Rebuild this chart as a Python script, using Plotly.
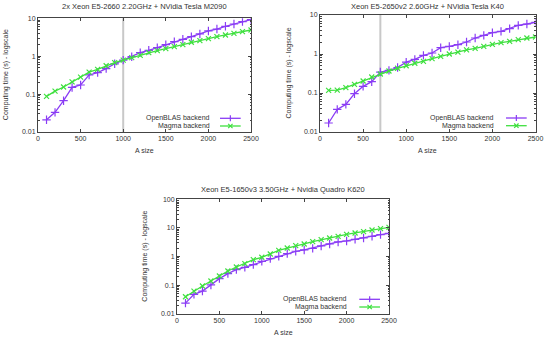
import plotly.graph_objects as go

W, H = 544, 337

sizes = list(range(100, 2600, 100))

titles = [
    "2x Xeon E5-2660 2.20GHz + NVidia Tesla M2090",
    "Xeon E5-2650v2 2.60GHz + NVidia Tesla K40",
    "Xeon E5-1650v3 3.50GHz + Nvidia Quadro K620",
]
series_names = ["OpenBLAS backend", "Magma backend"]

openblas_m2090 = [0.021, 0.033, 0.067, 0.15, 0.174, 0.32, 0.37, 0.47, 0.63, 0.79,
                  0.97, 1.24, 1.43, 1.68, 2.02, 2.42, 2.79, 3.28, 3.86, 4.63,
                  5.2, 6.15, 7.08, 8.2, 9.2]
magma_m2090 = [0.087, 0.12, 0.154, 0.21, 0.28, 0.38, 0.45, 0.56, 0.68, 0.79,
               0.92, 1.05, 1.24, 1.40, 1.58, 1.79, 2.02, 2.33, 2.57, 2.9,
               3.28, 3.63, 4.02, 4.45, 4.92]

openblas_k40 = [0.017, 0.038, 0.051, 0.096, 0.148, 0.195, 0.345, 0.38, 0.45, 0.62,
                0.73, 0.92, 1.06, 1.45, 1.57, 1.73, 2.03, 2.57, 3.01, 3.52,
                3.81, 4.47, 5.43, 5.88, 6.49]
magma_k40 = [0.117, 0.118, 0.137, 0.167, 0.203, 0.257, 0.307, 0.366, 0.43, 0.50,
             0.58, 0.65, 0.76, 0.87, 1.0, 1.12, 1.27, 1.40, 1.57, 1.77,
             1.95, 2.11, 2.33, 2.57, 2.73]

openblas_k620 = [0.024, 0.0485, 0.063, 0.103, 0.171, 0.255, 0.352, 0.425, 0.526, 0.687,
                 0.85, 1.03, 1.27, 1.54, 1.71, 1.95, 2.36, 2.77, 3.25, 3.52,
                 4.03, 4.48, 5.12, 5.85, 6.51]
magma_k620 = [0.040, 0.063, 0.095, 0.142, 0.212, 0.316, 0.436, 0.57, 0.785, 0.95,
              1.24, 1.66, 2.0, 2.42, 2.77, 3.33, 3.92, 4.48, 5.12, 6.01,
              6.7, 7.45, 8.51, 9.48, 10.5]

crossover = [1000, 700, None]
y_ranges = [[-2, 1], [-2, 1], [-2, 2]]
y_tickvals = [[0.01, 0.1, 1, 10], [0.01, 0.1, 1, 10], [0.01, 0.1, 1, 10, 100]]
y_ticktext = [["0.01", "0.1", "1", "10"], ["0.01", "0.1", "1", "10"],
              ["0.01", "0.1", "1", "10", "100"]]
x_tickvals = [0, 500, 1000, 1500, 2000, 2500]

PURPLE = "#8a3cf5"
GREEN = "#3fe03f"
FONT = "Liberation Sans, Arial, sans-serif"
TXT = "#333333"
FS = 7
FS_TITLE = 7.5

# plot boxes in pixels: (left, right, top, bottom)
boxes = [(38, 251, 18.3, 132), (320, 535.5, 15, 132), (177, 389, 199.3, 314)]
title_y = [6.5, 6.5, 189.5]

data = [(openblas_m2090, magma_m2090), (openblas_k40, magma_k40), (openblas_k620, magma_k620)]

def px(x):
    return x / W

def py(y):
    return 1 - y / H

fig = go.Figure()
shapes = []
annotations = []

for i, (box, (ob, mg)) in enumerate(zip(boxes, data)):
    l, r, t, b = box
    sfx = "" if i == 0 else str(i + 1)
    xa, ya = "x" + sfx, "y" + sfx
    fig.add_trace(go.Scatter(x=sizes, y=ob, mode="lines+markers", name=series_names[0],
                             xaxis=xa, yaxis=ya, showlegend=False,
                             line=dict(color=PURPLE, width=1.3),
                             marker=dict(symbol="cross-thin", size=6,
                                         line=dict(color=PURPLE, width=1.2))))
    fig.add_trace(go.Scatter(x=sizes, y=mg, mode="lines+markers", name=series_names[1],
                             xaxis=xa, yaxis=ya, showlegend=False,
                             line=dict(color=GREEN, width=1.3),
                             marker=dict(symbol="x-thin", size=5,
                                         line=dict(color=GREEN, width=1.2))))
    axis_common = dict(showline=True, linecolor="#444", linewidth=1, mirror="ticks",
                       ticks="inside", ticklen=3, tickcolor="#444", showgrid=False,
                       zeroline=False, automargin=False, ticklabeloverflow="allow",
                       tickfont=dict(family=FONT, size=FS, color=TXT))
    fig.layout["xaxis" + sfx] = dict(domain=[px(l), px(r)], range=[0, 2500],
                                     anchor=ya, tickvals=x_tickvals, **axis_common)
    fig.layout["yaxis" + sfx] = dict(domain=[py(b), py(t)], type="log", range=y_ranges[i],
                                     anchor=xa, tickvals=y_tickvals[i], ticktext=y_ticktext[i],
                                     minor=dict(ticks="inside", ticklen=1.5, tickcolor="#444",
                                                dtick="D1", showgrid=False),
                                     **axis_common)
    if crossover[i] is not None:
        shapes.append(dict(type="line", xref=xa, yref="paper", x0=crossover[i], x1=crossover[i],
                           y0=py(b), y1=py(t), line=dict(color="#c8c8c8", width=2),
                           layer="below"))
    cx = (l + r) / 2
    annotations.append(dict(text=titles[i], x=px(cx), y=py(title_y[i]), xref="paper", yref="paper",
                            showarrow=False, font=dict(family=FONT, size=FS_TITLE, color=TXT),
                            xanchor="center", yanchor="middle"))
    annotations.append(dict(text="A size", x=px(cx), y=py(b + 18.5), xref="paper", yref="paper",
                            showarrow=False, font=dict(family=FONT, size=FS, color=TXT),
                            xanchor="center", yanchor="middle"))
    annotations.append(dict(text="Computing time (s) - logscale", x=px(l - 32), y=py((t + b) / 2),
                            xref="paper", yref="paper", textangle=-90, showarrow=False,
                            font=dict(family=FONT, size=FS, color=TXT),
                            xanchor="center", yanchor="middle"))

# custom gnuplot-style legends (text then sample)
legend_pos = [(212, 220, 240.7, 118.3, 126), (496, 506, 526.7, 118, 125.7),
              (349, 359.3, 380, 299.3, 307)]
for (tx, lx0, lx1, y1, y2) in legend_pos:
    for name, yy, col, sym in [(series_names[0], y1, PURPLE, "+"), (series_names[1], y2, GREEN, "x")]:
        annotations.append(dict(text=name, x=px(tx), y=py(yy), xref="paper", yref="paper",
                                showarrow=False, font=dict(family=FONT, size=FS, color=TXT),
                                xanchor="right", yanchor="middle"))
        shapes.append(dict(type="line", xref="paper", yref="paper", x0=px(lx0), x1=px(lx1),
                           y0=py(yy), y1=py(yy), line=dict(color=col, width=1.3)))
        mx = (lx0 + lx1) / 2
        s = 3
        if sym == "+":
            shapes.append(dict(type="line", xref="paper", yref="paper", x0=px(mx), x1=px(mx),
                               y0=py(yy - s), y1=py(yy + s), line=dict(color=col, width=1.2)))
        else:
            d = 2.2
            shapes.append(dict(type="line", xref="paper", yref="paper", x0=px(mx - d), x1=px(mx + d),
                               y0=py(yy - d), y1=py(yy + d), line=dict(color=col, width=1.2)))
            shapes.append(dict(type="line", xref="paper", yref="paper", x0=px(mx - d), x1=px(mx + d),
                               y0=py(yy + d), y1=py(yy - d), line=dict(color=col, width=1.2)))

fig.update_layout(width=W, height=H, template="none",
                  margin=dict(l=0, r=0, t=0, b=0, pad=0, autoexpand=False),
                  paper_bgcolor="white", plot_bgcolor="white",
                  shapes=shapes, annotations=annotations, showlegend=False,
                  font=dict(family=FONT, size=FS, color=TXT))

fig.write_html("out.html", config={"displayModeBar": False},
               post_script="document.body.style.margin='0';document.body.style.overflow='hidden';")
